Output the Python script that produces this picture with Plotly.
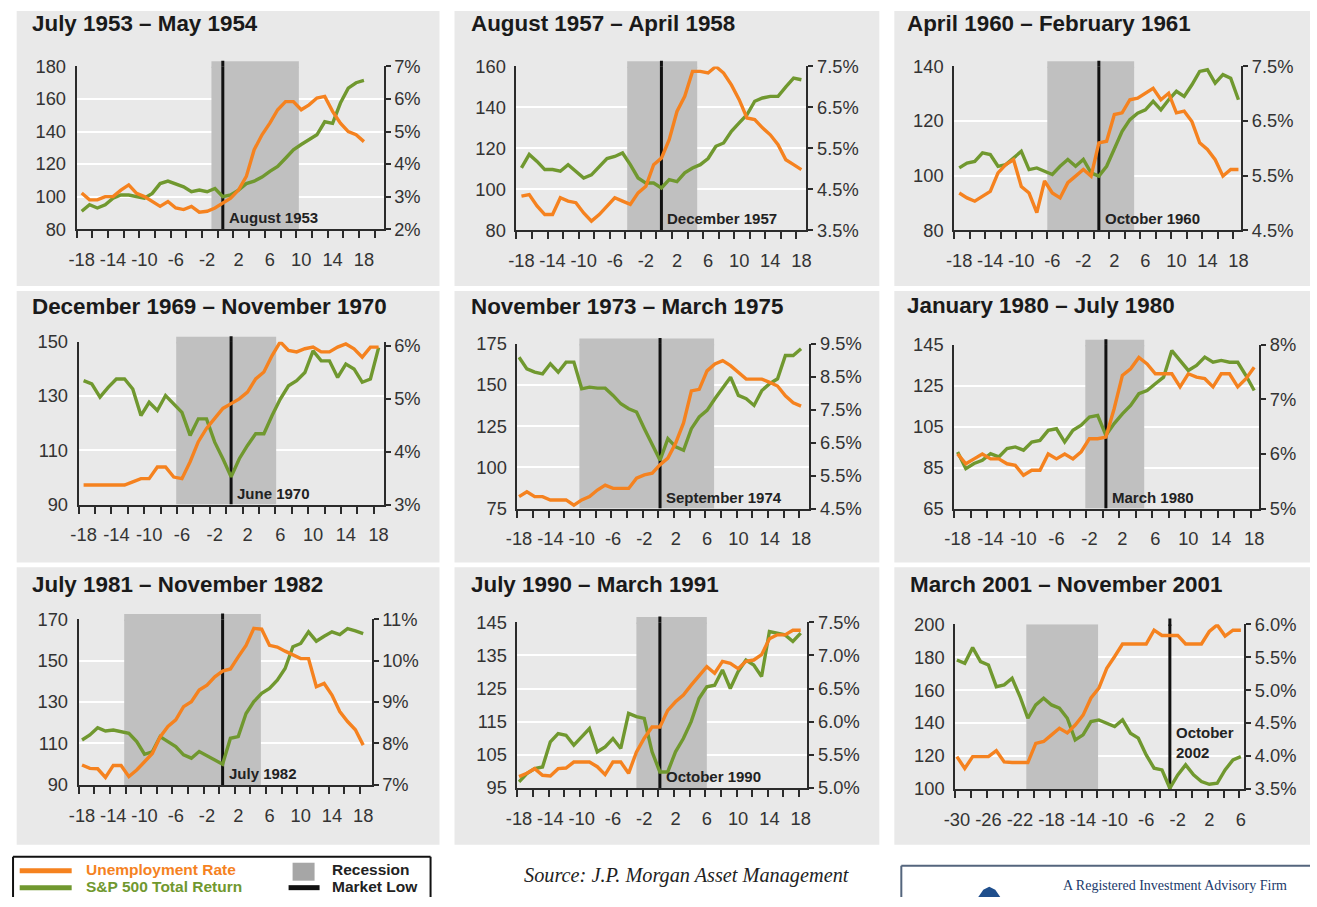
import plotly.graph_objects as go

W, H = 1317, 907
# the captured page comes out slightly reduced and shifted; geometry below is given in
# target-picture pixels and mapped to page pixels with this correction
AX, BX, AY, BY = 0.986, 12.3, 0.979, 9.4
FS = 1.017  # font scale to compensate

# ---------------- data ----------------
titles = ["July 1953 – May 1954", "August 1957 – April 1958", "April 1960 – February 1961",
          "December 1969 – November 1970", "November 1973 – March 1975", "January 1980 – July 1980",
          "July 1981 – November 1982", "July 1990 – March 1991", "March 2001 – November 2001"]

months_std = list(range(-18, 19))
months_2001 = list(range(-30, 7))
tick_labels_std = [-18, -14, -10, -6, -2, 2, 6, 10, 14, 18]
tick_labels_2001 = [-30, -26, -22, -18, -14, -10, -6, -2, 2, 6]

sp_1953 = [91, 95, 93, 95, 99, 101, 101, 100, 99, 102, 108, 109.5, 108, 106, 103, 104, 103, 105, 100, 101, 104, 108,
           109.5, 112, 115.5, 118.5, 123.6, 128.8, 132, 135, 138, 146, 145, 157.5, 166.7, 170, 171.4]
ur_1953 = [3.11, 2.90, 2.90, 3.0, 3.0, 3.2, 3.36, 3.1, 3.0, 2.85, 2.7, 2.85, 2.65, 2.6, 2.7, 2.52, 2.55, 2.65, 2.8,
           2.95, 3.2, 3.62, 4.44, 4.9, 5.26, 5.67, 5.92, 5.92, 5.67, 5.82, 6.03, 6.08, 5.62, 5.26, 5.0, 4.9, 4.69]

sp_1957 = [110.4, 117, 113.6, 109.6, 109.6, 108.8, 112, 108.8, 105.5, 107, 111, 115, 116, 117.7, 112, 105.5, 103, 103,
           100.6, 104.7, 103.7, 108, 110.4, 112, 115, 121, 122.6, 128.3, 132.4, 136.4, 143, 144.6, 145.4, 145.4, 150,
           154.3, 153.5]
ur_1957 = [4.33, 4.37, 4.09, 3.88, 3.88, 4.29, 4.21, 4.17, 3.92, 3.72, 3.88, 4.09, 4.29, 4.21, 4.13, 4.41, 4.57, 5.1,
           5.26, 5.71, 6.4, 6.77, 7.38, 7.38, 7.34, 7.5, 7.34, 7.05, 6.69, 6.24, 6.2, 6.0, 5.83, 5.59, 5.22, 5.1, 4.98]

sp_1960 = [102.8, 104.6, 105.2, 108.3, 107.7, 103.4, 104, 106.5, 108.9, 102.2, 102.8, 101.6, 100.4, 103.4, 105.9, 103.4,
           105.9, 101, 99.8, 103.4, 109.5, 116.2, 120.5, 122.9, 124.1, 127.2, 124.1, 127.8, 130.9, 129, 133.3, 138.2,
           138.8, 133.9, 137, 135.7, 127.8]
ur_1960 = [5.18, 5.09, 5.03, 5.12, 5.21, 5.55, 5.70, 5.79, 5.30, 5.18, 4.82, 5.40, 5.18, 5.09, 5.37, 5.49, 5.61, 5.49,
           6.10, 6.13, 6.62, 6.65, 6.89, 6.92, 7.01, 7.10, 6.89, 7.01, 6.65, 6.68, 6.49, 6.10, 5.98, 5.79, 5.49, 5.61, 5.61]

sp_1970 = [135.7, 134.5, 129.6, 133.2, 136.3, 136.3, 132.6, 122.8, 127.7, 124.7, 130.2, 127.1, 124, 115.5, 121.6, 121.6,
           113, 106.9, 100.2, 106.9, 111.8, 116.1, 116.1, 122.8, 128.9, 133.8, 135.7, 138.7, 146.7, 143, 143, 136.9,
           141.8, 140, 135.1, 136.3, 147.9]
ur_1970 = [3.37, 3.37, 3.37, 3.37, 3.37, 3.37, 3.43, 3.49, 3.49, 3.71, 3.71, 3.52, 3.49, 3.81, 4.19, 4.44, 4.63, 4.82,
           4.91, 5.0, 5.13, 5.38, 5.51, 5.82, 6.08, 5.92, 5.89, 5.95, 5.98, 5.89, 5.89, 5.98, 6.04, 5.95, 5.79, 5.98, 5.98]

sp_1974 = [166.9, 159.8, 157.8, 156.8, 162.9, 157.8, 163.9, 163.9, 147.7, 148.7, 148.1, 148.1, 143.7, 138.6, 135.6,
           133.6, 123.5, 113.4, 104.3, 117.4, 112.4, 110.4, 123.5, 130.6, 134.6, 141.7, 148.7, 154.8, 143.7, 141.7,
           137.6, 146.7, 150.8, 153.8, 167.9, 167.9, 172]
ur_1974 = [4.86, 5.01, 4.86, 4.86, 4.76, 4.76, 4.76, 4.60, 4.76, 4.86, 5.06, 5.21, 5.11, 5.11, 5.11, 5.42, 5.52, 5.57,
           5.83, 6.03, 6.49, 7.10, 8.07, 8.12, 8.68, 8.89, 8.99, 8.84, 8.63, 8.43, 8.43, 8.43, 8.33, 8.22, 7.92, 7.71, 7.61]

sp_1980 = [92.6, 84.5, 87, 88.6, 91.8, 90.2, 94.3, 95.1, 93.5, 97.5, 98.3, 103.2, 104, 97.5, 103.2, 105.7, 109.7, 110.5,
           100.8, 106.5, 111.3, 115.4, 121.1, 122.7, 126, 129.2, 142.2, 137.4, 132.5, 134.9, 139, 136.5, 137.4, 136.5,
           136.5, 130, 122.7]
ur_1980 = [6.0, 5.82, 5.91, 6.0, 5.91, 5.91, 5.82, 5.79, 5.61, 5.70, 5.70, 6.0, 5.91, 6.0, 5.91, 6.04, 6.28, 6.28, 6.31,
           6.83, 7.44, 7.56, 7.77, 7.65, 7.47, 7.47, 7.47, 7.23, 7.47, 7.41, 7.38, 7.23, 7.47, 7.47, 7.23, 7.38, 7.59]

sp_1982 = [111.7, 114.1, 117.6, 116, 116.5, 115.7, 114.9, 110.9, 104.8, 106, 113.3, 110.9, 108.5, 104.5, 102.9, 106.1,
           104.1, 102, 100, 112.5, 113.3, 124.5, 130.2, 134.2, 136.6, 140.6, 146.2, 156.7, 158.3, 163.9, 159.4, 161.8,
           163.9, 162.6, 165.5, 164.4, 163.1]
ur_1982 = [7.48, 7.40, 7.39, 7.18, 7.47, 7.47, 7.20, 7.36, 7.56, 7.76, 8.16, 8.41, 8.57, 8.89, 9.01, 9.29, 9.41, 9.61,
           9.75, 9.80, 10.09, 10.37, 10.78, 10.76, 10.37, 10.33, 10.23, 10.13, 10.05, 10.05, 9.37, 9.45, 9.17, 8.77,
           8.53, 8.33, 7.96]

sp_1990 = [96.8, 99.3, 100.8, 101.3, 108.9, 111.4, 110.9, 107.9, 110.4, 112.9, 105.9, 107.4, 109.9, 106.9, 117.5,
           116.5, 116, 105.9, 99.8, 99.8, 105.9, 109.9, 115, 122, 125.5, 126, 130.6, 125, 130.1, 133.6, 132.1, 128.6,
           142.2, 141.7, 141.2, 139.2, 141.7]
ur_1990 = [5.17, 5.22, 5.29, 5.19, 5.18, 5.29, 5.30, 5.39, 5.39, 5.39, 5.32, 5.20, 5.39, 5.39, 5.22, 5.54, 5.75, 5.92,
           5.92, 6.17, 6.30, 6.40, 6.55, 6.70, 6.83, 6.73, 6.91, 6.88, 6.80, 6.91, 6.93, 7.01, 7.25, 7.31, 7.31, 7.38, 7.38]

sp_2001 = [178.3, 176.3, 185.8, 177.3, 175.3, 162.1, 163.2, 167.2, 156.1, 142.9, 151, 155.1, 151, 149, 142.9, 129.8,
           132.8, 140.9, 141.9, 139.9, 137.9, 141.9, 133.8, 130.8, 120.6, 112.6, 111.5, 100.4, 108.5, 114.6, 108.5,
           104.5, 102.8, 103.4, 111.5, 117.6, 119.6]
ur_2001 = [3.99, 3.81, 3.99, 3.99, 3.99, 4.08, 3.91, 3.90, 3.90, 3.90, 4.19, 4.22, 4.32, 4.42, 4.35, 4.47, 4.62, 4.88,
           5.03, 5.33, 5.51, 5.70, 5.70, 5.70, 5.70, 5.91, 5.83, 5.83, 5.83, 5.70, 5.70, 5.70, 5.89, 5.99, 5.82, 5.91, 5.91]

sp_series = [sp_1953, sp_1957, sp_1960, sp_1970, sp_1974, sp_1980, sp_1982, sp_1990, sp_2001]
ur_series = [ur_1953, ur_1957, ur_1960, ur_1970, ur_1974, ur_1980, ur_1982, ur_1990, ur_2001]
month_series = [months_std] * 8 + [months_2001]
tick_series = [tick_labels_std] * 8 + [tick_labels_2001]

recession_start = [-1.45, -4.4, -6.65, -6.7, -10.3, -2.5, -12.6, -3.0, -21.2]
recession_end = [9.7, 4.6, 4.55, 5.5, 6.9, 4.65, 4.9, 6.0, -12.1]
market_low = [0, 0, 0, 0, 0, 0, 0, 0, -3]
low_labels = ["August 1953", "December 1957", "October 1960", "June 1970", "September 1974",
              "March 1980", "July 1982", "October 1990", "October<br>2002"]

# ---------------- axis config ----------------
x_ranges = [[-18.64, 20.5], [-18.64, 18.64], [-18.64, 18.35], [-18.6, 18.6], [-18.2, 19.06],
            [-18.4, 18.6], [-18.43, 19.07], [-18.2, 18.85], [-30.2, 6.42]]
left_ranges = [[80, 180], [80, 160], [80, 140], [90, 150], [75, 175], [65, 145], [90, 170], [95, 145], [100, 200]]
left_dticks = [20, 20, 20, 20, 25, 20, 20, 10, 20]
right_ranges = [[2, 7], [3.5, 7.5], [4.5, 7.5], [3, 6.08], [4.5, 9.5], [5, 8], [7, 11], [5, 7.5], [3.5, 6.0]]
right_dticks = [1, 1, 1, 1, 1, 1, 1, 0.5, 0.5]
right_formats = [".0f", ".1f", ".1f", ".0f", ".1f", ".0f", ".0f", ".1f", ".1f"]

# ---------------- layout geometry (target pixels) ----------------
panel_boxes = [(17, 440, 5, 285), (455, 880, 5, 285), (895, 1317, 5, 285),
               (17, 440, 290, 562), (455, 880, 290, 562), (895, 1317, 290, 562),
               (17, 440, 567, 845), (455, 880, 567, 845), (895, 1317, 567, 845)]
plot_boxes = [(77, 384, 65, 228), (517, 807, 65, 229), (955, 1242, 65, 229),
              (79, 384, 341, 504), (518, 810, 343, 508), (955, 1260, 344, 508),
              (79, 372, 619, 785), (518, 808, 622, 788), (956, 1245, 624, 789)]
title_pos = [(30, 22), (469, 22), (906, 22), (30, 306), (469, 306), (906, 305), (30, 584), (469, 584), (909, 584)]

ORANGE = "#f5821f"
GREEN = "#70982f"
AXC = "#2b2b2b"
PANEL = "#e9e9e9"
SHADE = "#c0c0c0"
FONT = "Liberation Sans, Arial, sans-serif"
SERIF = "Liberation Serif, Times New Roman, serif"
TF = round(18 * FS, 1)
LOWF = 15
LEGF = 15.5


def px(x):
    p = (x - BX) / AX
    return min(max(p, 0), W) / W


def py(y):
    p = (y - BY) / AY
    return 1 - min(max(p, 0), H) / H


fig = go.Figure()
layout = dict(width=W, height=H, margin=dict(l=0, r=0, t=0, b=0), paper_bgcolor="white",
              plot_bgcolor="rgba(0,0,0,0)", showlegend=False,
              font=dict(family=FONT, color="#333333", size=TF))
shapes = []
annotations = []

for i in range(9):
    n = i + 1
    xa = "x" if n == 1 else f"x{n}"
    yl_n, yr_n = 2 * i + 1, 2 * i + 2
    yl = "y" if yl_n == 1 else f"y{yl_n}"
    yr = f"y{yr_n}"
    xkey = "xaxis" if n == 1 else f"xaxis{n}"
    ylkey = "yaxis" if yl_n == 1 else f"yaxis{yl_n}"
    yrkey = f"yaxis{yr_n}"

    x0, x1, y0, y1 = plot_boxes[i]
    layout[xkey] = dict(domain=[px(x0), px(x1)], anchor=yl, range=x_ranges[i], tickmode="array",
                        tickvals=tick_series[i], ticktext=[str(v) for v in tick_series[i]],
                        ticks="", showline=True, linecolor=AXC, linewidth=2,
                        showgrid=False, zeroline=False, tickfont=dict(size=TF, color="#333333"),
                        ticklabelstandoff=13,
                        minor=dict(ticks="outside", tickmode="linear", tick0=x_ranges[i][0], dtick=2,
                                   ticklen=7, tickwidth=2, tickcolor=AXC, showgrid=False))
    layout[ylkey] = dict(domain=[py(y1), py(y0)], anchor=xa, range=left_ranges[i], tickmode="linear",
                         tick0=left_ranges[i][0], dtick=left_dticks[i], ticks="", showline=True,
                         linecolor=AXC, linewidth=2, showgrid=True, gridcolor="white", gridwidth=2,
                         zeroline=False, tickfont=dict(size=TF, color="#333333"), ticklabelstandoff=5)
    layout[yrkey] = dict(overlaying=yl, side="right", anchor=xa, range=right_ranges[i], tickmode="linear",
                         tick0=right_ranges[i][0], dtick=right_dticks[i], tickformat=right_formats[i],
                         ticksuffix="%", showline=True, linecolor=AXC, linewidth=2, ticks="outside",
                         ticklen=5, tickwidth=2, tickcolor=AXC, showgrid=False, zeroline=False,
                         tickfont=dict(size=TF, color="#333333"))

    fig.add_trace(go.Scatter(x=month_series[i], y=sp_series[i], xaxis=xa, yaxis=yl, mode="lines",
                             line=dict(color=GREEN, width=3.4), name="S&P 500 Total Return"))
    fig.add_trace(go.Scatter(x=month_series[i], y=ur_series[i], xaxis=xa, yaxis=yr, mode="lines",
                             line=dict(color=ORANGE, width=3.4), name="Unemployment Rate"))

    # panel background
    bx0, bx1, by0, by1 = panel_boxes[i]
    shapes.append(dict(type="rect", xref="paper", yref="paper", x0=px(bx0), x1=px(bx1), y0=py(by1), y1=py(by0),
                       fillcolor=PANEL, line=dict(width=0), layer="below"))
    # recession shading (inside the plot, above gridlines)
    lo, hi = left_ranges[i]
    shapes.append(dict(type="rect", xref=xa, yref=yl, x0=recession_start[i], x1=recession_end[i],
                       y0=lo, y1=hi, fillcolor=SHADE, line=dict(width=0), layer="between"))
    # market low line
    shapes.append(dict(type="line", xref=xa, yref=yl, x0=market_low[i], x1=market_low[i],
                       y0=lo, y1=hi, line=dict(color="#111111", width=3), layer="between"))
    # small overshoot above the plot top
    if n != 9:
        shapes.append(dict(type="rect", xref=xa, yref=f"{yl} domain", x0=recession_start[i],
                           x1=recession_end[i], y0=0.99, y1=1.032, fillcolor=SHADE, line=dict(width=0),
                           layer="below"))
    shapes.append(dict(type="line", xref=xa, yref=f"{yl} domain", x0=market_low[i], x1=market_low[i],
                       y0=0.99, y1=1.035, line=dict(color="#111111", width=3), layer="below"))

    # labels
    tx, ty = title_pos[i]
    annotations.append(dict(xref="paper", yref="paper", x=px(tx), y=py(ty), xanchor="left", yanchor="middle",
                            text=f"<b>{titles[i]}</b>", showarrow=False,
                            font=dict(family=FONT, size=round(22 * FS, 1), color="#1a1a1a")))
    if n == 9:
        annotations.append(dict(xref=xa, yref=f"{yl} domain", x=market_low[i], y=0.28, xanchor="left",
                                yanchor="middle", xshift=4, align="left", text=f"<b>{low_labels[i]}</b>",
                                showarrow=False, font=dict(family=FONT, size=LOWF, color="#222222")))
    else:
        annotations.append(dict(xref=xa, yref=f"{yl} domain", x=market_low[i], y=0, xanchor="left",
                                yanchor="bottom", xshift=4, yshift=1, text=f"<b>{low_labels[i]}</b>",
                                showarrow=False, font=dict(family=FONT, size=LOWF, color="#222222")))

# ---------------- legend box (open at the bottom edge) ----------------
LB_L, LB_R, LB_T, LB_B = 5, 430, 857, 950
shapes.append(dict(type="rect", xref="paper", yref="paper", x0=px(LB_L), x1=px(LB_R), y0=py(LB_B), y1=py(LB_T),
                   fillcolor="white", line=dict(width=0)))
for (ax0, ay0, ax1, ay1) in [(LB_L, LB_T, LB_R, LB_T), (LB_L, LB_T, LB_L, LB_B), (LB_R, LB_T, LB_R, LB_B)]:
    shapes.append(dict(type="line", xref="paper", yref="paper", x0=px(ax0) + 0.0008, x1=px(ax1) + 0.0008,
                       y0=py(ay0), y1=py(ay1), line=dict(color="#111111", width=2)))
shapes.append(dict(type="line", xref="paper", yref="paper", x0=px(20), x1=px(72), y0=py(871), y1=py(871),
                   line=dict(color=ORANGE, width=5)))
shapes.append(dict(type="line", xref="paper", yref="paper", x0=px(20), x1=px(72), y0=py(888), y1=py(888),
                   line=dict(color=GREEN, width=5)))
shapes.append(dict(type="rect", xref="paper", yref="paper", x0=px(293), x1=px(315), y0=py(881), y1=py(863),
                   fillcolor="#a6a6a6", line=dict(width=0)))
shapes.append(dict(type="line", xref="paper", yref="paper", x0=px(289), x1=px(320), y0=py(888), y1=py(888),
                   line=dict(color="#111111", width=5)))
legend_texts = [("Unemployment Rate", 84, 870, ORANGE), ("S&P 500 Total Return", 84, 887, GREEN),
                ("Recession", 330, 870, "#222222"), ("Market Low", 330, 887, "#222222")]
for t, lx, ly, c in legend_texts:
    annotations.append(dict(xref="paper", yref="paper", x=px(lx), y=py(ly), xanchor="left", yanchor="middle",
                            text=f"<b>{t}</b>", showarrow=False, font=dict(family=FONT, size=LEGF, color=c)))

# source
annotations.append(dict(xref="paper", yref="paper", x=px(688), y=py(876), xanchor="center", yanchor="middle",
                        text="<i>Source: J.P. Morgan Asset Management</i>", showarrow=False,
                        font=dict(family=SERIF, size=round(20 * FS, 1), color="#222222")))

# bottom-right firm box (open at the bottom/right edges)
shapes.append(dict(type="line", xref="paper", yref="paper", x0=px(902), x1=1, y0=py(866), y1=py(866),
                   line=dict(color="#54657d", width=2)))
shapes.append(dict(type="line", xref="paper", yref="paper", x0=px(902), x1=px(902), y0=py(866), y1=0,
                   line=dict(color="#54657d", width=2)))
logo = (f"M {px(979)} 0 L {px(984)} {py(890)} L {px(990)} {py(887)} "
        f"L {px(996)} {py(890)} L {px(1001)} 0 Z")
shapes.append(dict(type="path", xref="paper", yref="paper", path=logo, fillcolor="#1f4e8c", line=dict(width=0)))
annotations.append(dict(xref="paper", yref="paper", x=px(1062), y=0.002, xanchor="left", yanchor="bottom",
                        text="A Registered Investment Advisory Firm", showarrow=False,
                        font=dict(family=SERIF, size=14, color="#1b3a6b")))

layout["shapes"] = shapes
layout["annotations"] = annotations
fig.update_layout(**layout)
fig.write_html("out.html", config={"displayModeBar": False},
               post_script="document.body.style.margin='0px';")
